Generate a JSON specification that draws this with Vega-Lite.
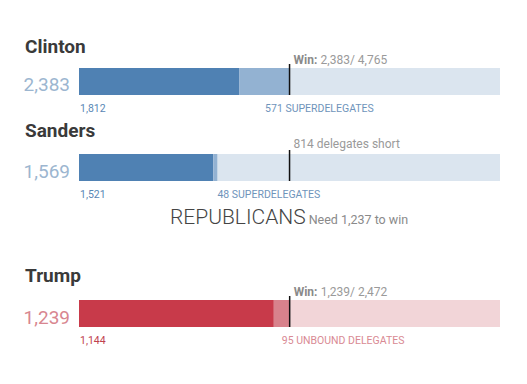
{
  "$schema": "https://vega.github.io/schema/vega-lite/v6.json",
  "background": "white",
  "padding": {"left": 23, "top": 37, "right": 0, "bottom": 0},
  "config": {"view": {"stroke": null}, "font": "Roboto"},
  "datasets": {
    "segments": [
      {"name": "Clinton", "category": "D pledged", "from": 0, "to": 1812},
      {"name": "Clinton", "category": "D super", "from": 1812, "to": 2383},
      {"name": "Clinton", "category": "D remaining", "from": 2383, "to": 4765},
      {"name": "Sanders", "category": "D pledged", "from": 0, "to": 1521},
      {"name": "Sanders", "category": "D super", "from": 1521, "to": 1569},
      {"name": "Sanders", "category": "D remaining", "from": 1569, "to": 4765},
      {"name": "Trump", "category": "R bound", "from": 0, "to": 1144},
      {"name": "Trump", "category": "R unbound", "from": 1144, "to": 1239},
      {"name": "Trump", "category": "R remaining", "from": 1239, "to": 2472}
    ],
    "candidates": [
      {"name": "Clinton", "total": 2383, "pledged": 1812, "extra_label": "571 SUPERDELEGATES", "needed": 2383, "note_bold": "Win:", "note": "2,383/ 4,765"},
      {"name": "Sanders", "total": 1569, "pledged": 1521, "extra_label": "48 SUPERDELEGATES", "needed": 2383, "note_bold": "", "note": "814 delegates short"},
      {"name": "Trump", "total": 1239, "pledged": 1144, "extra_label": "95 UNBOUND DELEGATES", "needed": 1237, "note_bold": "Win:", "note": "1,239/ 2,472"}
    ],
    "headings": [
      {"party": "Republicans", "heading": "REPUBLICANS", "need": "Need 1,237 to win", "needed": 1237}
    ]
  },
  "vconcat": [
    {
      "width": 421, "height": 27,
      "layer": [
        {"data": {"name": "segments"}, "transform": [{"filter": "datum.name === 'Clinton'"}],
         "mark": {"type": "bar"},
         "encoding": {
           "x": {"field": "from", "type": "quantitative", "scale": {"domain": [0, 4765], "nice": false}, "axis": null},
           "x2": {"field": "to"},
           "y": {"field": "name", "type": "nominal", "axis": null, "scale": {"paddingInner": 0, "paddingOuter": 0}},
           "color": {"field": "category", "type": "nominal", "legend": null,
             "scale": {"domain": ["D pledged", "D super", "D remaining", "R bound", "R unbound", "R remaining"], "range": ["#4f81b3", "#93b2d2", "#dbe5ef", "#c83a4a", "#d8828c", "#f2d5d8"]}}
         }},
        {"data": {"name": "candidates"}, "transform": [{"filter": "datum.name === 'Clinton'"}],
         "layer": [
           {"mark": {"type": "rule", "color": "#111", "strokeWidth": 1.5, "yOffset": -4, "y2Offset": 1},
            "encoding": {"x": {"field": "needed", "type": "quantitative"}}},
           {"mark": {"type": "text", "align": "left", "baseline": "alphabetic", "dx": -54, "dy": -29, "fontSize": 19, "fontWeight": "bold", "color": "#3a3a3a"},
            "encoding": {"x": {"datum": 0, "type": "quantitative"}, "text": {"field": "name"}}},
           {"mark": {"type": "text", "align": "right", "baseline": "alphabetic", "dx": -9, "dy": 9, "fontSize": 19, "color": "#9cb6d0"},
            "encoding": {"x": {"datum": 0, "type": "quantitative"}, "text": {"field": "total", "format": ","}}},
           {"mark": {"type": "text", "align": "left", "baseline": "alphabetic", "dx": 1, "dy": 30, "fontSize": 10.5, "color": "#5a87b5"},
            "encoding": {"x": {"datum": 0, "type": "quantitative"}, "text": {"field": "pledged", "format": ","}}},
           {"mark": {"type": "text", "align": "left", "baseline": "alphabetic", "dx": 26, "dy": 30, "fontSize": 10.5, "color": "#6f94bb"},
            "encoding": {"x": {"field": "pledged", "type": "quantitative"}, "text": {"field": "extra_label"}}},
           {"mark": {"type": "text", "align": "left", "baseline": "alphabetic", "dx": 4, "dy": -18, "fontSize": 12, "fontWeight": "bold", "color": "#8a8a8a"},
            "encoding": {"x": {"field": "needed", "type": "quantitative"}, "text": {"field": "note_bold"}}},
           {"mark": {"type": "text", "align": "left", "baseline": "alphabetic", "dx": 31, "dy": -18, "fontSize": 12, "color": "#9a9a9a"},
            "encoding": {"x": {"field": "needed", "type": "quantitative"}, "text": {"field": "note"}}}
         ]}
      ]
    },
    {
      "width": 421, "height": 27,
      "layer": [
        {"data": {"name": "segments"}, "transform": [{"filter": "datum.name === 'Sanders'"}],
         "mark": {"type": "bar"},
         "encoding": {
           "x": {"field": "from", "type": "quantitative", "scale": {"domain": [0, 4765], "nice": false}, "axis": null},
           "x2": {"field": "to"},
           "y": {"field": "name", "type": "nominal", "axis": null, "scale": {"paddingInner": 0, "paddingOuter": 0}},
           "color": {"field": "category", "type": "nominal", "legend": null,
             "scale": {"domain": ["D pledged", "D super", "D remaining", "R bound", "R unbound", "R remaining"], "range": ["#4f81b3", "#93b2d2", "#dbe5ef", "#c83a4a", "#d8828c", "#f2d5d8"]}}
         }},
        {"data": {"name": "candidates"}, "transform": [{"filter": "datum.name === 'Sanders'"}],
         "layer": [
           {"mark": {"type": "rule", "color": "#111", "strokeWidth": 1.5, "yOffset": -4, "y2Offset": 2},
            "encoding": {"x": {"field": "needed", "type": "quantitative"}}},
           {"mark": {"type": "text", "align": "left", "baseline": "alphabetic", "dx": -54, "dy": -31, "fontSize": 19, "fontWeight": "bold", "color": "#3a3a3a"},
            "encoding": {"x": {"datum": 0, "type": "quantitative"}, "text": {"field": "name"}}},
           {"mark": {"type": "text", "align": "right", "baseline": "alphabetic", "dx": -9, "dy": 10, "fontSize": 19, "color": "#9cb6d0"},
            "encoding": {"x": {"datum": 0, "type": "quantitative"}, "text": {"field": "total", "format": ","}}},
           {"mark": {"type": "text", "align": "left", "baseline": "alphabetic", "dx": 1, "dy": 30, "fontSize": 10.5, "color": "#5a87b5"},
            "encoding": {"x": {"datum": 0, "type": "quantitative"}, "text": {"field": "pledged", "format": ","}}},
           {"mark": {"type": "text", "align": "left", "baseline": "alphabetic", "dx": 4, "dy": 30, "fontSize": 10.5, "color": "#6f94bb"},
            "encoding": {"x": {"field": "pledged", "type": "quantitative"}, "text": {"field": "extra_label"}}},
           {"mark": {"type": "text", "align": "left", "baseline": "alphabetic", "dx": 4, "dy": -20, "fontSize": 12, "color": "#9a9a9a"},
            "encoding": {"x": {"field": "needed", "type": "quantitative"}, "text": {"field": "note"}}}
         ]}
      ]
    },
    {
      "width": 421, "height": 1,
      "data": {"name": "headings"},
      "layer": [
        {"mark": {"type": "text", "align": "right", "baseline": "alphabetic", "dx": 16, "dy": -16.5, "fontSize": 21, "fontWeight": 300, "color": "#444444"},
         "encoding": {"x": {"field": "needed", "type": "quantitative", "scale": {"domain": [0, 2472], "nice": false}, "axis": null}, "text": {"field": "heading"}}},
        {"mark": {"type": "text", "align": "left", "baseline": "alphabetic", "dx": 19, "dy": -16.5, "fontSize": 12.5, "color": "#8a8a8a"},
         "encoding": {"x": {"field": "needed", "type": "quantitative"}, "text": {"field": "need"}}}
      ]
    },
    {
      "width": 421, "height": 27,
      "layer": [
        {"data": {"name": "segments"}, "transform": [{"filter": "datum.name === 'Trump'"}],
         "mark": {"type": "bar"},
         "encoding": {
           "x": {"field": "from", "type": "quantitative", "scale": {"domain": [0, 2472], "nice": false}, "axis": null},
           "x2": {"field": "to"},
           "y": {"field": "name", "type": "nominal", "axis": null, "scale": {"paddingInner": 0, "paddingOuter": 0}},
           "color": {"field": "category", "type": "nominal", "legend": null,
             "scale": {"domain": ["D pledged", "D super", "D remaining", "R bound", "R unbound", "R remaining"], "range": ["#4f81b3", "#93b2d2", "#dbe5ef", "#c83a4a", "#d8828c", "#f2d5d8"]}}
         }},
        {"data": {"name": "candidates"}, "transform": [{"filter": "datum.name === 'Trump'"}],
         "layer": [
           {"mark": {"type": "rule", "color": "#111", "strokeWidth": 1.5, "yOffset": -4, "y2Offset": 0},
            "encoding": {"x": {"field": "needed", "type": "quantitative"}}},
           {"mark": {"type": "text", "align": "left", "baseline": "alphabetic", "dx": -54, "dy": -32, "fontSize": 19, "fontWeight": "bold", "color": "#3a3a3a"},
            "encoding": {"x": {"datum": 0, "type": "quantitative"}, "text": {"field": "name"}}},
           {"mark": {"type": "text", "align": "right", "baseline": "alphabetic", "dx": -9, "dy": 10, "fontSize": 19, "color": "#d88690"},
            "encoding": {"x": {"datum": 0, "type": "quantitative"}, "text": {"field": "total", "format": ","}}},
           {"mark": {"type": "text", "align": "left", "baseline": "alphabetic", "dx": 1, "dy": 30, "fontSize": 10.5, "color": "#c0414f"},
            "encoding": {"x": {"datum": 0, "type": "quantitative"}, "text": {"field": "pledged", "format": ","}}},
           {"mark": {"type": "text", "align": "left", "baseline": "alphabetic", "dx": 8, "dy": 30, "fontSize": 10.5, "color": "#d98a94"},
            "encoding": {"x": {"field": "pledged", "type": "quantitative"}, "text": {"field": "extra_label"}}},
           {"mark": {"type": "text", "align": "left", "baseline": "alphabetic", "dx": 4, "dy": -18, "fontSize": 12, "fontWeight": "bold", "color": "#8a8a8a"},
            "encoding": {"x": {"field": "needed", "type": "quantitative"}, "text": {"field": "note_bold"}}},
           {"mark": {"type": "text", "align": "left", "baseline": "alphabetic", "dx": 31, "dy": -18, "fontSize": 12, "color": "#9a9a9a"},
            "encoding": {"x": {"field": "needed", "type": "quantitative"}, "text": {"field": "note"}}}
         ]}
      ]
    }
  ],
  "spacing": 59,
  "bounds": "flush"
}
